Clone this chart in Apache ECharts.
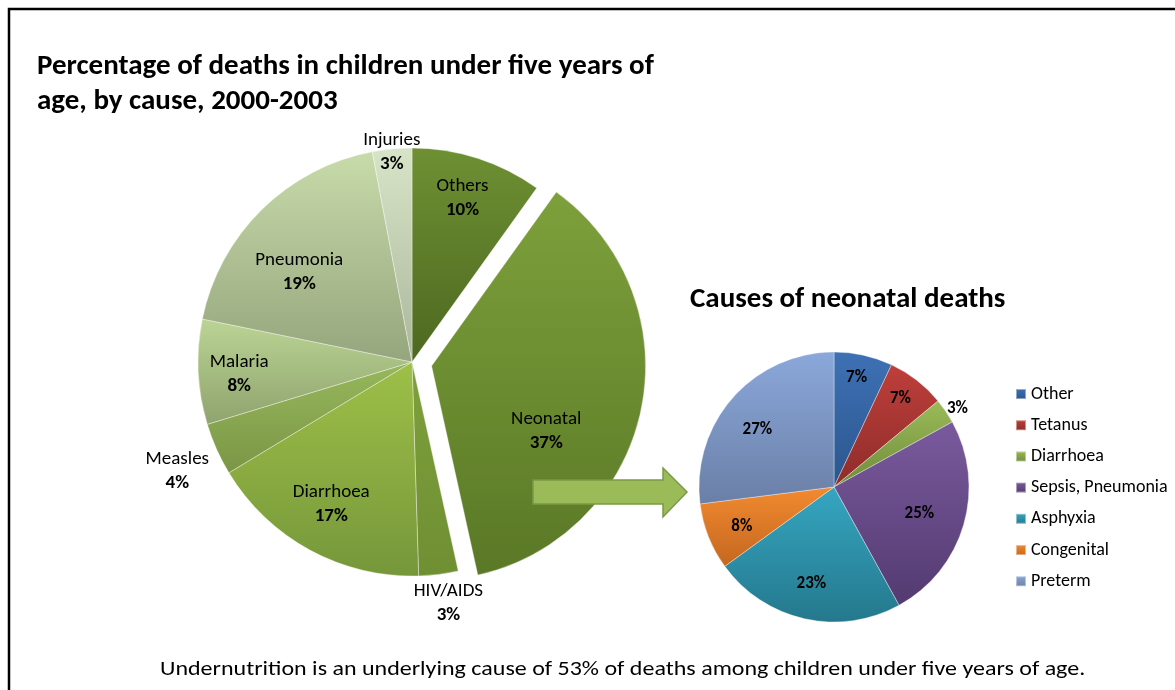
<!DOCTYPE html>
<html>
<head>
<meta charset="utf-8">
<script src="https://cdn.jsdelivr.net/npm/echarts/dist/echarts.min.js"></script>
<style>
html,body{margin:0;padding:0;background:#ffffff;}
#chart{width:1175px;height:690px;}
</style>
</head>
<body>
<div id="chart"></div>
<script>
// ---------- data ----------
const mainCauses = ['Others', 'Neonatal', 'HIV/AIDS', 'Diarrhoea', 'Measles', 'Malaria', 'Pneumonia', 'Injuries'];
const mainValues = [10, 37, 3, 17, 4, 8, 19, 3];
const neoCauses = ['Other', 'Tetanus', 'Diarrhoea', 'Sepsis, Pneumonia', 'Asphyxia', 'Congenital', 'Preterm'];
const neoValues = [7, 7, 3, 25, 23, 8, 27];
const explodedCause = 'Neonatal';

const mainTitle = 'Percentage of deaths in children under five years of\nage, by cause, 2000-2003';
const neoTitle = 'Causes of neonatal deaths';
const footNote = 'Undernutrition is an underlying cause of 53% of deaths among children under five years of age.';

// ---------- styles ----------
const FONT = 'Carlito, Calibri, Lato, sans-serif';
const mainColors = [
  ['#6E9033', '#4D6820'], // Others
  ['#7DA03B', '#5A7826'], // Neonatal
  ['#7FA03C', '#6F8F33'], // HIV/AIDS
  ['#9DC048', '#76973A'], // Diarrhoea
  ['#97B85C', '#7A9646'], // Measles
  ['#BBD494', '#8FA36E'], // Malaria
  ['#C8DBAA', '#95A57D'], // Pneumonia
  ['#D8E4C8', '#A9B79B']  // Injuries
];
// where each label of the main pie sits: inner ring, outside ring, or on the rim
const mainLabelRing = ['inner', 'inner', 'outer', 'inner', 'outer', 'inner', 'inner', 'edge'];
// small label nudges (pixels) to follow the reference's "best fit" placement
const mainLabelNudge = [[0, -7], [-47, 32], [6, -2], [-2, -3], [-11, 9], [-8, 5], [3, 28], [0, 6]];
const neoColors = [
  ['#3E71B5', '#2B568D'],
  ['#BE3F3B', '#8E2C2A'],
  ['#9BBB59', '#6F8B3A'],
  ['#7A5A9E', '#533A70'],
  ['#36A6C1', '#24788C'],
  ['#F28A30', '#C4671F'],
  ['#8BA8DB', '#6A7FA6']
];
const neoLabelRing = ['inner', 'inner', 'outer', 'inner', 'inner', 'inner', 'inner'];
const neoLabelNudge = [[0, -8], [3, -6], [-1, 6], [-14, -2], [0, -4], [4, 2], [1, 11]];

const MAIN_C = [412, 362], MAIN_R = 214;
const NEO_C = [834, 487], NEO_R = 135;

function grad(c) {
  return { type: 'linear', x: 0, y: 0, x2: 0, y2: 1,
    colorStops: [{ offset: 0, color: c[0] }, { offset: 1, color: c[1] }] };
}

const mainRich = {
  n: { fontFamily: FONT, fontSize: 19, color: '#000', lineHeight: 24, align: 'center' },
  p: { fontFamily: FONT, fontSize: 19, fontWeight: 'bold', color: '#000', lineHeight: 24, align: 'center' }
};
const mainFmt = p => '{n|' + p.name + '}\n{p|' + p.value + '%}';
const neoRich = {
  p: { fontFamily: FONT, fontSize: 17, fontWeight: 'bold', color: '#000' }
};
const neoFmt = p => '{p|' + p.value + '%}';

function nudger(nudge) {
  return function (params) {
    const d = nudge[params.dataIndex];
    return d ? { dx: d[0], dy: d[1] } : {};
  };
}

function labelRing(center, radius, names, values, ringOf, which, fmt, rich, nudge, selectedName, offset) {
  return {
    type: 'pie', center: center, radius: radius, startAngle: 90, clockwise: true,
    silent: true, avoidLabelOverlap: false,
    selectedMode: selectedName ? 'single' : false, selectedOffset: offset || 0,
    itemStyle: { color: 'rgba(0,0,0,0)', borderWidth: 0 },
    label: { show: true, position: 'inside', formatter: fmt, rich: rich },
    labelLine: { show: false },
    emphasis: { disabled: true },
    labelLayout: nudger(nudge),
    data: names.map((n, i) => ({ name: n, value: values[i], selected: n === selectedName,
      label: { show: ringOf[i] === which } }))
  };
}

const series = [
  {
    type: 'pie', center: MAIN_C, radius: MAIN_R, startAngle: 90, clockwise: true,
    selectedMode: 'single', selectedOffset: 20, avoidLabelOverlap: false,
    label: { show: false }, labelLine: { show: false },
    emphasis: { disabled: true },
    itemStyle: { borderColor: 'rgba(255,255,255,0.45)', borderWidth: 0.8 },
    data: mainCauses.map((n, i) => ({ name: n, value: mainValues[i], selected: n === explodedCause,
      itemStyle: { color: grad(mainColors[i]) } }))
  },
  labelRing(MAIN_C, [110, MAIN_R], mainCauses, mainValues, mainLabelRing, 'inner', mainFmt, mainRich,
    mainLabelNudge, explodedCause, 20),
  labelRing(MAIN_C, [190, 238], mainCauses, mainValues, mainLabelRing, 'edge', mainFmt, mainRich, mainLabelNudge),
  labelRing(MAIN_C, [MAIN_R, 270], mainCauses, mainValues, mainLabelRing, 'outer', mainFmt, mainRich, mainLabelNudge),
  {
    type: 'pie', center: NEO_C, radius: NEO_R, startAngle: 90, clockwise: true,
    avoidLabelOverlap: false, label: { show: false }, labelLine: { show: false },
    emphasis: { disabled: true },
    itemStyle: { borderColor: 'rgba(255,255,255,0.45)', borderWidth: 0.8 },
    data: neoCauses.map((n, i) => ({ name: n, value: neoValues[i], itemStyle: { color: grad(neoColors[i]) } }))
  },
  labelRing(NEO_C, [66, NEO_R], neoCauses, neoValues, neoLabelRing, 'inner', neoFmt, neoRich, neoLabelNudge),
  labelRing(NEO_C, [NEO_R, 160], neoCauses, neoValues, neoLabelRing, 'outer', neoFmt, neoRich, neoLabelNudge)
];

const legendText = { fontFamily: FONT, fontSize: 18, color: '#000', lineHeight: 18 };

const chart = echarts.init(document.getElementById('chart'), null, { renderer: 'canvas' });
chart.setOption({
  animation: false,
  backgroundColor: '#ffffff',
  title: [
    { text: mainTitle, left: 32, top: 44,
      textStyle: { fontFamily: FONT, fontSize: 29, fontWeight: 'bold', color: '#000', lineHeight: 35 } },
    { text: neoTitle, left: 685, top: 280,
      textStyle: { fontFamily: FONT, fontSize: 29, fontWeight: 'bold', color: '#000' } }
  ],
  legend: {
    orient: 'vertical', left: 1010, top: 380, icon: 'rect',
    itemWidth: 10, itemHeight: 10, itemGap: 13.2, selectedMode: false,
    textStyle: legendText,
    data: neoCauses.map((n, i) => ({ name: n, textStyle: legendText,
      itemStyle: { color: grad(neoColors[i]) } }))
  },
  graphic: [
    { type: 'rect', shape: { x: 9, y: 9, width: 1250, height: 750 },
      style: { fill: 'none', stroke: '#000', lineWidth: 2.5 }, silent: true, z: 100 },
    { type: 'polygon', silent: true, z: 50,
      shape: { points: [[533, 480], [663, 480], [663, 468], [687, 492], [663, 517], [663, 504], [533, 504]] },
      style: { fill: '#9BBB59', stroke: '#7A9A45', lineWidth: 1.5 } },
    { type: 'text', x: 160, y: 670, scaleX: 1.2, silent: true, z: 60,
      style: { text: footNote, x: 0, y: 0, fontFamily: FONT, fontSize: 20, fill: '#000',
        verticalAlign: 'middle', align: 'left' } }
  ],
  series: series
});
</script>
</body>
</html>
